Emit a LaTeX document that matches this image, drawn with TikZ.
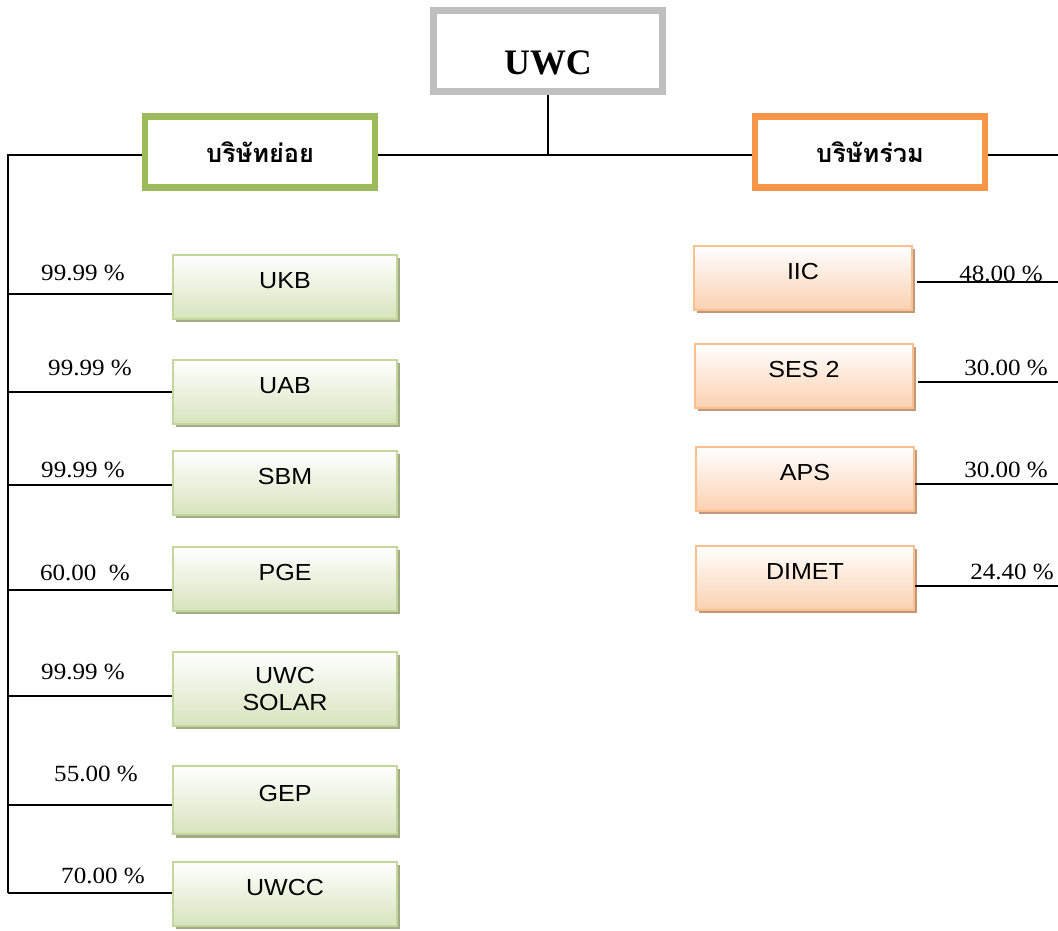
\documentclass[tikz,border=0pt]{standalone}
\usepackage{fontspec}
\setmainfont{Liberation Serif}[FakeStretch=1.08]
\setsansfont{Liberation Sans}[FakeStretch=1.08]
\newfontfamily\uwcfont{Liberation Serif}
\newfontfamily\thaifont[Script=Thai]{Loma}
\usetikzlibrary{shadows}
\definecolor{uwcgray}{HTML}{BFBFBF}
\definecolor{subgreen}{HTML}{9BBB59}
\definecolor{jvorange}{HTML}{F79646}
\definecolor{gline}{HTML}{C3D69B}
\definecolor{gfill}{HTML}{D7E4BD}
\definecolor{gshadow}{HTML}{A3AA86}
\definecolor{oline}{HTML}{FAC090}
\definecolor{ofill}{HTML}{FAD1B0}
\definecolor{oshadow}{HTML}{C3987A}
\begin{document}
\begin{tikzpicture}[x=0.025cm,y=-0.025cm,
  conn/.style={line width=1.2pt},
  topbox/.style={draw=uwcgray,line width=5pt,minimum width=5.725cm,minimum height=2.025cm,
    inner sep=0pt,text height=33pt,text depth=0pt,
    font=\uwcfont\bfseries\fontsize{25.5}{30}\selectfont},
  head/.style={line width=4.3pt,fill=white,minimum width=5.75cm,minimum height=1.775cm,
    font=\thaifont\bfseries\fontsize{18}{22}\selectfont},
  gbox/.style={draw=gline,line width=1.4pt,top color=white,bottom color=gfill,
    drop shadow={shadow xshift=2.4pt,shadow yshift=-2.4pt,fill=gshadow,opacity=1},
    minimum width=5.6cm,minimum height=1.6cm,inner sep=0pt,
    font=\sffamily\fontsize{16.5}{19}\selectfont,text height=12pt,text depth=10pt},
  obox/.style={gbox,draw=oline,bottom color=ofill,minimum width=5.45cm,
    drop shadow={shadow xshift=2.4pt,shadow yshift=-2.4pt,fill=oshadow,opacity=1}},
  pct/.style={inner sep=0pt,font=\rmfamily\fontsize{16.5}{20}\selectfont}]
\useasboundingbox (0,0) rectangle (1058,931);
% top of the chart
\node[topbox] (uwc) at (548,51) {UWC};
\node[head,draw=subgreen] (sub) at (260,152) {บริษัทย่อย};
\node[head,draw=jvorange] (jv) at (870,152) {บริษัทร่วม};
\coordinate (bar) at (548,155);
\coordinate (lt) at (8,155);
\coordinate (lb) at (8,893);
\coordinate (rt) at (1058,155);
\path[draw,conn] (uwc) -- (bar);
\path[draw,conn] (sub.east |- bar) -- (jv.west |- bar);
\path[draw,conn] (sub.west |- bar) -- (lt) -- (lb);
\path[draw,conn] (jv.east |- bar) -- (rt);
% subsidiaries
\node[gbox] (ukb) at (285,287) {UKB};
\node[gbox] (uab) at (285,392) {UAB};
\node[gbox] (sbm) at (285,483) {SBM};
\node[gbox] (pge) at (285,579) {PGE};
\node[gbox,minimum height=1.85cm,text height=,text depth=,align=center] (solar) at (285,689) {UWC\\SOLAR};
\node[gbox,minimum height=1.72cm] (gep) at (285,800) {GEP};
\node[gbox] (uwcc) at (285,894) {UWCC};
\coordinate (t1) at (8,294);
\coordinate (t2) at (8,392);
\coordinate (t3) at (8,485);
\coordinate (t4) at (8,590);
\coordinate (t5) at (8,696);
\coordinate (t6) at (8,805);
\path[draw,conn] (t1) -- (t1 -| ukb.west);
\path[draw,conn] (t2) -- (t2 -| uab.west);
\path[draw,conn] (t3) -- (t3 -| sbm.west);
\path[draw,conn] (t4) -- (t4 -| pge.west);
\path[draw,conn] (t5) -- (t5 -| solar.west);
\path[draw,conn] (t6) -- (t6 -| gep.west);
\path[draw,conn] (lb) -- (lb -| uwcc.west);
\node[pct] (p1) at (83,273) {99.99 \%};
\node[pct] (p2) at (90,368) {99.99 \%};
\node[pct] (p3) at (83,470) {99.99 \%};
\node[pct] (p4) at (85,573) {60.00\ \ \%};
\node[pct] (p5) at (83,672) {99.99 \%};
\node[pct] (p6) at (96,774) {55.00 \%};
\node[pct] (p7) at (103,876) {70.00 \%};
% associated companies
\node[obox] (iic) at (803,278) {IIC};
\node[obox] (ses) at (804,376) {SES 2};
\node[obox] (aps) at (805,479) {APS};
\node[obox] (dimet) at (805,578) {DIMET};
\coordinate (r1) at (1058,282);
\coordinate (r2) at (1058,382);
\coordinate (r3) at (1058,484);
\coordinate (r4) at (1058,586);
\path[draw,conn,shorten <=3pt] (r1 -| iic.east) -- (r1);
\path[draw,conn,shorten <=3pt] (r2 -| ses.east) -- (r2);
\path[draw,conn] (r3 -| aps.east) -- (r3);
\path[draw,conn] (r4 -| dimet.east) -- (r4);
\node[pct] (q1) at (1001,274) {48.00 \%};
\node[pct] (q2) at (1006,368) {30.00 \%};
\node[pct] (q3) at (1006,470) {30.00 \%};
\node[pct] (q4) at (1012,572) {24.40 \%};
\end{tikzpicture}
\end{document}
